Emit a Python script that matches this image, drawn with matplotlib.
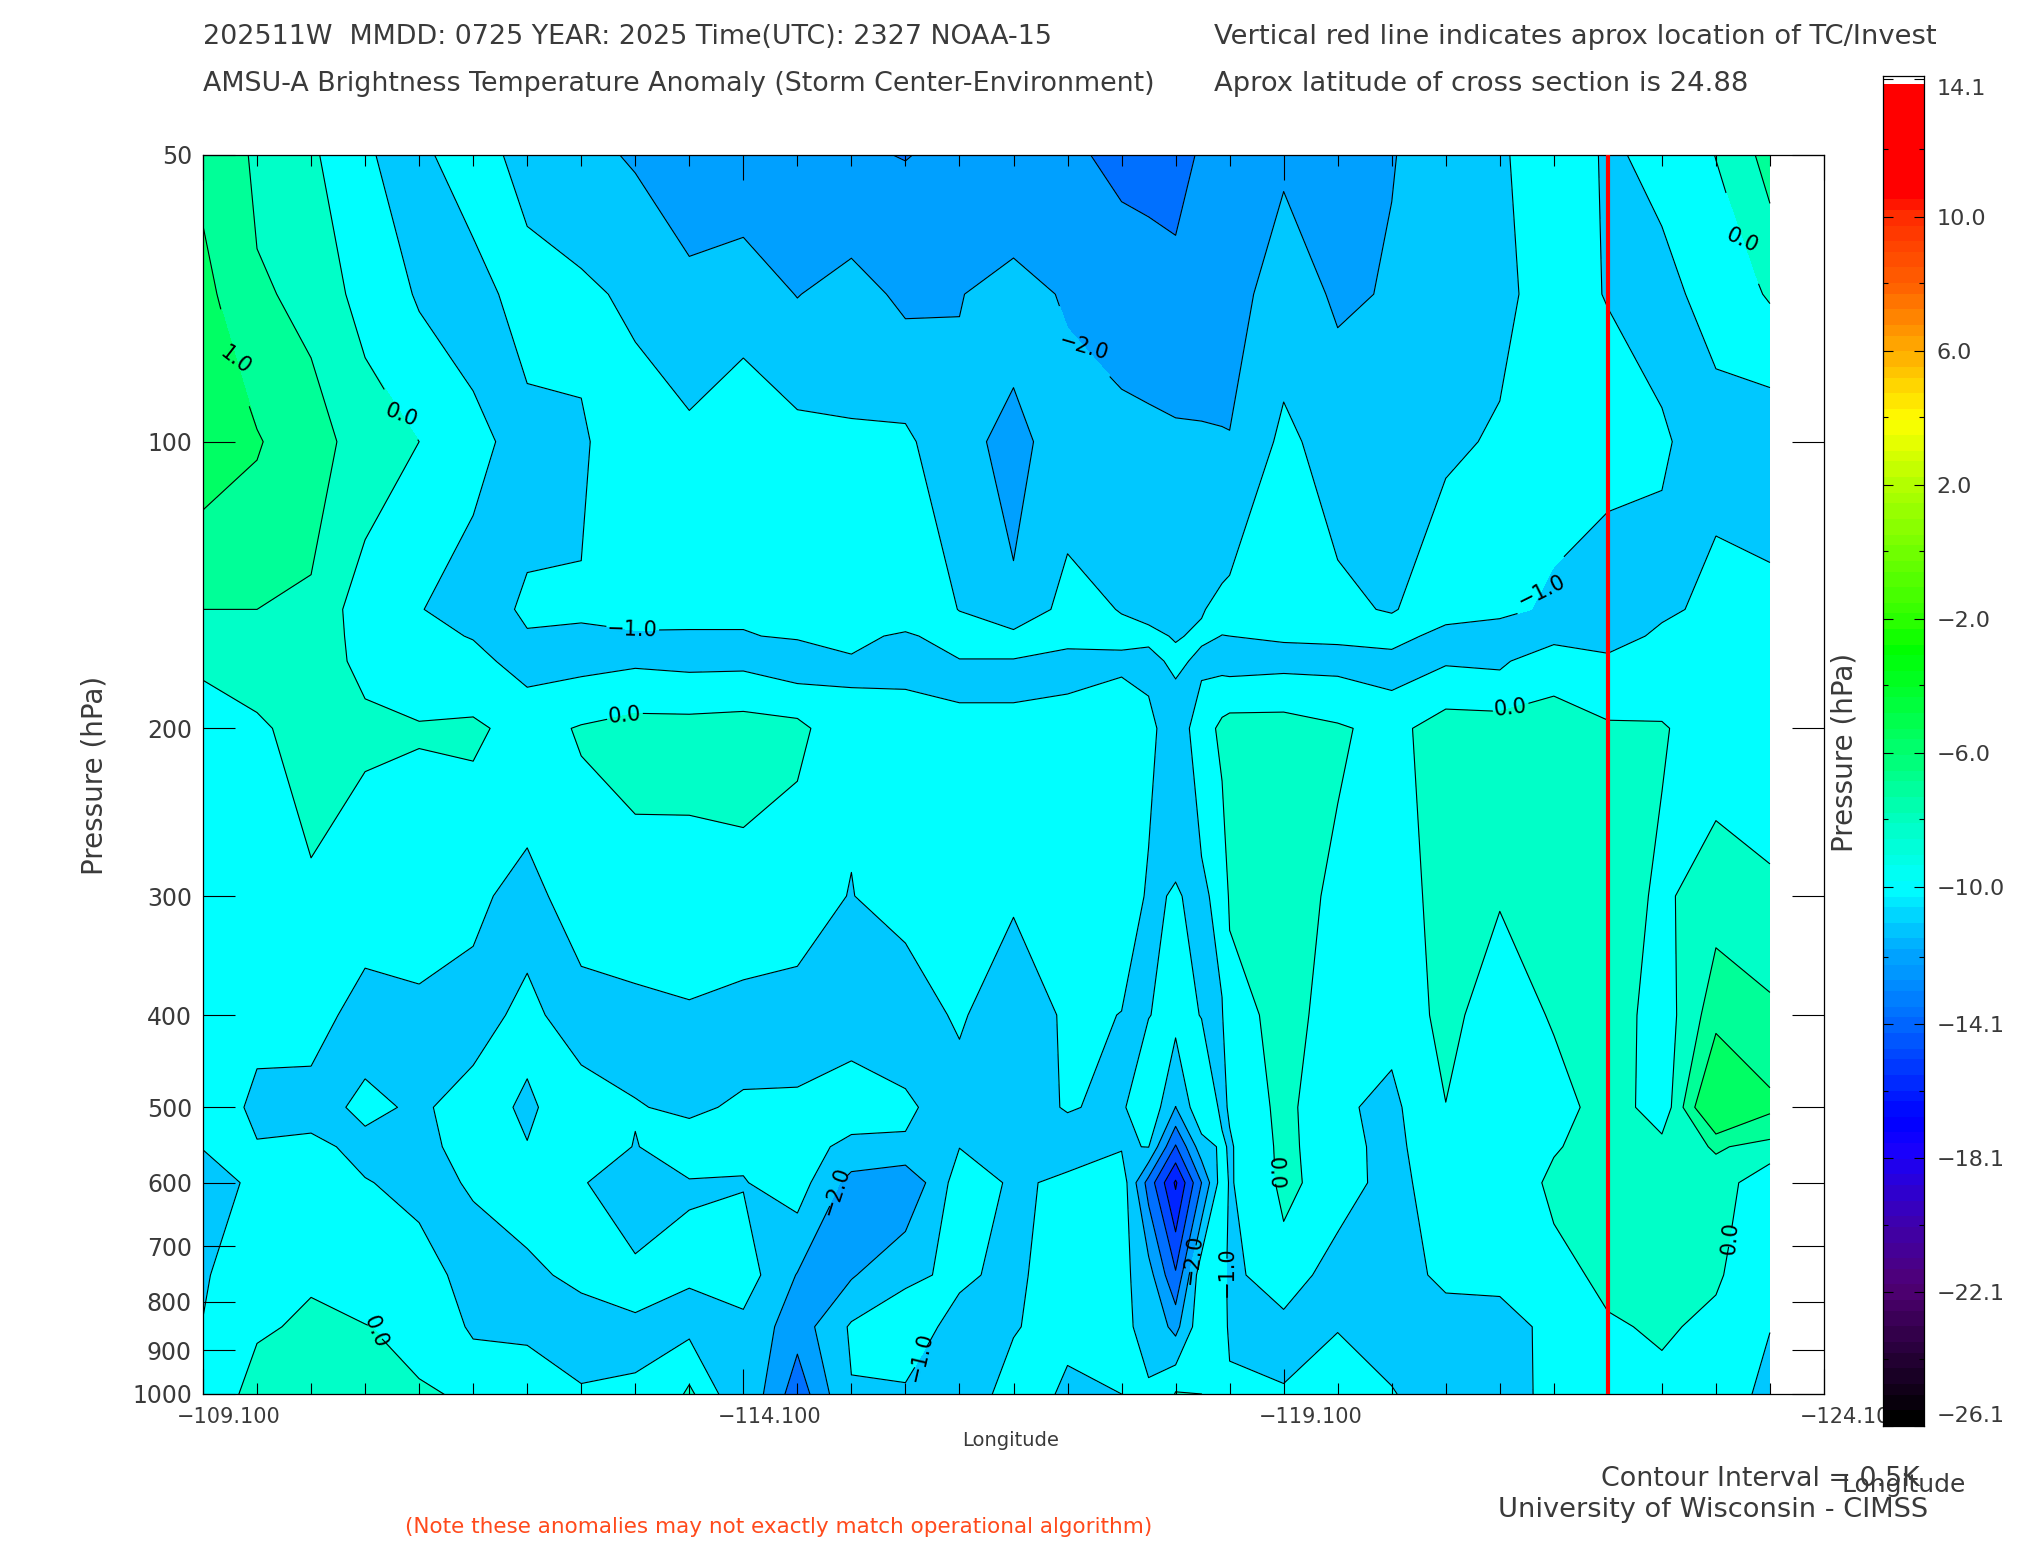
import numpy as np
import matplotlib
matplotlib.use('Agg')
import matplotlib.pyplot as plt
from matplotlib.colors import ListedColormap, BoundaryNorm, LinearSegmentedColormap

# pressure levels of the cross section (last one sits under the axis, it gets clipped)
pressure = [50, 70, 100, 150, 160, 170, 200, 300, 400, 500, 550, 600, 750, 850, 1100]

longitudes = [-109.1, -109.6, -110.1, -110.6, -111.1, -111.6, -112.1, -112.6, -113.1, -113.6,
              -114.1, -114.6, -115.1, -115.6, -116.1, -116.6, -117.1, -117.6, -117.85, -118.1,
              -118.34, -118.53, -118.6, -119.1, -119.6, -120.1, -120.6, -121.1, -121.6, -122.1,
              -122.6, -123.1, -123.6]

# anomaly, one list per longitude, top of the atmosphere first
c00 = [.86, 1.16, 1.28, .5, .35, .15, -.41, -.6, -.75, -.75, -.98, -1.22, -1.08, -.98, -.5]
c01 = [.43, .54, 1.05, .5, .42, .3, -.1, -.5, -.9, -1.08, -.98, -.9, -.5, -.12, .74]
c02 = [.18, .43, .61, .465, .44, .4, .25, -.09, -.7, -1.27, -.85, -.34, -.1, .14, .59]
c03 = [-.95, -.24, .38, -.33, -.27, -.2, .17, -.6, -1.3, -.85, -1.17, -.97, -.33, .02, .59]
c04 = [-1.2, -1.11, 0., -.96, -.75, -.55, .07, -.63, -1.15, -1.1, -1.15, -1.15, -.78, -.15, .18]
c05 = [-.5, -1.4, -.75, -1.39, -1.05, -.72, .16, -.81, -1.3, -.72, -.8, -.955, -1.2, -1.15, .32]
c06 = [-1.4, -.55, -1.35, -.88, -1.05, -1.38, -.35, -1.32, -.8, -1.1, -.98, -.8, -1.09, -1.33, .79]
c07 = [-1.75, -.8, -1.1, -.95, -1.05, -1.3, .08, -.5, -1.4, -.62, -.7, -.98, -.9, -1.2, -.8]
c08 = [-2.1, -1.2, -.5, -.93, -1.02, -1.15, .36, -.42, -1.24, -.97, -1.02, -1.15, -.95, -1.02, -.97]
c09 = [-2.5, -1.78, -.75, -.85, -1.05, -1.25, .36, -.41, -1.1, -1.09, -.76, -1.03, -.92, -1.25, 1.2]
c10 = [-2.6, -1.51, -.2, -.85, -1.05, -1.23, .45, -.38, -1.3, -.92, -.8, -1.05, -.5, -1.27, -1.15]
c11 = [-2.7, -2.03, -.66, -.3, -.9, -1.6, .3, -.8, -1.16, -.95, -.75, -.54, -2.05, -2.53, -4.55]
c12 = [-2.9, -1.63, -.86, -.6, -.85, -1.06, -.9, -1.02, -1.3, -.66, -1.16, -2.39, -2.1, -.87, -1.18]
c13 = [-3.03, -2.2, -.8, -.5, -1.1, -1.3, -.55, -.7, -1.53, -.85, -1.1, -2.9, -1.1, -.7, -1.31]
c14 = [-2.8, -2.03, -1.8, -1.02, -.7, -1.03, -.98, -.8, -.85, -1.47, -1.02, -.5, -.9, -1.2, -1.25]
c15 = [-2.7, -1.71, -2.2, -1.9, -.7, -1.03, -.98, -.85, -1.8, -1.3, -1.2, -1.125, -1.15, -1.05, -.5]
c16 = [-2.85, -2.085, -1.66, -.6, -.85, -1.15, -.83, -.8, -.8, -.95, -1.33, -.85, -.6, -.7, -1.6]
c17 = [-3.2, -2.53, -1.65, -1.05, -.75, -1.2, -.3, -.5, -1.02, -1.15, -1.08, -.4, -.7, -.85, -1.1]
c18 = [-3.25, -2.63, -1.74, -1.2, -.85, -1.2, -.8, -1.1, -1.03, -.2, -.97, -3.4, -1.6, -1.2, -.75]
c19 = [-3.3, -2.74, -1.83, -1.4, -1.05, -.85, -1.45, -.95, -.7, -2.02, -4.1, -6.15, -3.87, -2.31, 1.68]
c20 = [-2.9, -2.57, -1.89, -1.05, -.9, -1.15, -.6, -1.15, -1.03, -.2, -1.4, -3.0, -.3, -.3, .2]
c21 = [-2.6, -2.44, -1.94, -.79, -1.01, -1.32, .28, -.75, -1.05, -1.2, -.85, -.45, -.55, -.4, -.2]
c22 = [-2.5, -2.4, -1.96, -.7, -1., -1.4, .45, .15, -.43, -.9, -1.1, -1.1, -1.3, -1.25, -.4]
c23 = [-2.15, -1.5, -.78, -.6, -.9, -1.3, .45, .4, .35, .3, .25, .2, -.31, -1.37, -.63]
c24 = [-2.2, -2.14, -1.43, -.78, -.85, -1.3, .12, -.18, -.4, -.85, -.6, -.38, -1.6, -1.03, -.4]
c25 = [-2.03, -1.93, -1.3, -1.09, -.45, -1.5, -.3, -.4, -.7, -1.23, -1.35, -1.5, -1.6, -1.6, -.45]
c26 = [-1.7, -1.5, -1.15, -.34, -1.5, -1.1, .48, .3, .3, -.02, -.1, -.2, -.7, -1.6, -1.4]
c27 = [-1.15, -1.22, -.9, -.7, -1.58, -1.2, .44, .07, -.55, -.7, -.7, -.7, -.8, -1.3, -1.25]
c28 = [-.34, -.6, -.5, -1.21, -1.4, -.2, .2, .3, .1, -.4, -.08, .2, -.28, -.8, -.85]
c29 = [-1.14, -1.05, -.42, -1.99, -1.7, -.67, .1, .3, .35, .42, .4, .4, .2, -.09, -.6]
c30 = [-.75, -1.28, -.9, -1.3, -.69, -.4, .05, -.1, -.3, -.4, .2, .3, .3, .1, -.4]
c31 = [.02, -.64, -1.42, -.6, -.5, -.4, -.3, .3, .8, 1.9, .55, .3, .1, -.17, -.5]
c32 = [.68, .1, -1.76, -.64, -.6, -.55, -.45, .13, .6, 1.12, .35, -.41, -.6, -.97, -1.6]

columns = [c00, c01, c02, c03, c04, c05, c06, c07, c08, c09, c10, c11, c12, c13, c14, c15, c16,
           c17, c18, c19, c20, c21, c22, c23, c24, c25, c26, c27, c28, c29, c30, c31, c32]
anomaly = np.array(columns).T

levels = [-7, -6, -5, -4, -3, -2, -1, 0, .5, 1, 2]
band_colors = ['#0000ff', '#0024ff', '#0048ff', '#0070ff', '#00a0ff', '#00c8ff',
               '#00ffff', '#00ffc8', '#00ff98', '#00ff64']

y_ticks = [50, 100, 200, 300, 400, 500, 600, 700, 800, 900, 1000]
x_major = [-109.1, -114.1, -119.1, -124.1]
x_minor = np.arange(-109.1, -124.2, -0.5)
storm_lon = -122.1

# where the contour labels sit (lon, pressure)
label_spots = [(-109.42, 79.3), (-110.94, 91.9), (-113.08, 152), (-113.0, 190), (-117.26, 77.4),
               (-121.44, 138), (-121.2, 190), (-123.35, 60.3), (-110.63, 863), (-118.99, 586),
               (-123.12, 684), (-114.95, 612), (-115.65, 913), (-118.6, 744), (-118.24, 721)]

bar_ticks = [-26.1, -22.1, -18.1, -14.1, -10.0, -6.0, -2.0, 2.0, 6.0, 10.0, 14.1]
bar_stops = [(0, '#000000'), (.099, '#500075'), (.151, '#3c00b4'), (.202, '#1800ff'), (.224, '#0000ff'),
             (.302, '#0070ff'), (.352, '#00a8ff'), (.402, '#00ffff'), (.452, '#00ffc0'), (.502, '#00ff70'),
             (.58, '#00ff00'), (.603, '#30ff00'), (.703, '#b0ff00'), (.753, '#ffff00'), (.803, '#ffb000'),
             (.853, '#ff6400'), (.904, '#ff3000'), (.926, '#ff0000'), (1, '#ff0000')]

W, H = 2025, 1550
text_col = '#3a3a3a'
fig = plt.figure(figsize=(W / 100, H / 100), dpi=100, facecolor='white')


def put(x, y, s, size, **kw):
    kw.setdefault('color', text_col)
    kw.setdefault('va', 'center')
    fig.text(x / W, 1 - y / H, s, fontsize=size, **kw)


def box(x0, y0, x1, y1):
    return [x0 / W, 1 - y1 / H, (x1 - x0) / W, (y1 - y0) / H]


ax = fig.add_axes(box(203, 155, 1824, 1394))
ax.contourf(longitudes, pressure, anomaly, levels=levels,
            cmap=ListedColormap(band_colors), norm=BoundaryNorm(levels, len(band_colors)))
lines = ax.contour(longitudes, pressure, anomaly, levels=levels, colors='k',
                   linewidths=0.8, linestyles='solid')
ax.clabel(lines, fmt=lambda v: f'{v:.1f}'.replace('-', '\u2212'), manual=label_spots,
          fontsize=15, inline=True, inline_spacing=2)
ax.axvline(storm_lon, color='#ff0000', lw=3.0, zorder=5)

ax.set_yscale('log')
ax.set_ylim(1000, 50)
ax.set_xlim(-109.1, -124.1)
ax.set_yticks(y_ticks)
ax.set_yticklabels([str(v) for v in y_ticks], fontsize=17, color=text_col)
ax.set_yticks([], minor=True)
ax.set_xticks(x_major)
ax.set_xticks(x_minor, minor=True)
ax.set_xticklabels([])
ax.tick_params(axis='y', which='major', direction='in', length=23, width=0.8, left=True, right=True, pad=8)
ax.tick_params(axis='x', which='major', direction='in', length=18, width=0.8, top=True, bottom=True)
ax.tick_params(axis='x', which='minor', direction='in', length=8, width=0.8, top=True, bottom=True)
for s in ax.spines.values():
    s.set_linewidth(0.9)

# colour bar
cax = fig.add_axes(box(1883, 76, 1924, 1426), zorder=5)
bar_map = LinearSegmentedColormap.from_list('bar', bar_stops, N=96)
grad = np.linspace(0, 1, 256)[:, None]
cax.imshow(grad, origin='lower', aspect='auto', cmap=bar_map, extent=[0, 1, -26.1, 13.95])
cax.set_xlim(0, 1)
cax.set_ylim(-26.1, 14.2)
cax.set_xticks([])
cax.yaxis.tick_right()
cax.set_yticks(bar_ticks)
cax.set_yticklabels([f'{v:.1f}'.replace('-', '\u2212') for v in bar_ticks], fontsize=16, color=text_col)
cax.set_yticks(np.array(bar_ticks[:-1]) + 2.01, minor=True)
cax.tick_params(axis='y', which='major', direction='in', length=7, width=0.8, left=True, right=True, pad=9)
cax.tick_params(axis='y', which='minor', direction='in', length=3.5, width=0.8, left=True, right=True)
bar_labels = cax.get_yticklabels()
bar_labels[0].set_va('bottom')
bar_labels[-1].set_va('top')
for s in cax.spines.values():
    s.set_linewidth(0.9)

# header text
put(203, 37, '202511W  MMDD: 0725 YEAR: 2025 Time(UTC): 2327 NOAA-15', 19.4)
put(1214, 37, 'Vertical red line indicates aprox location of TC/Invest', 19.7)
put(203, 84, 'AMSU-A Brightness Temperature Anomaly (Storm Center-Environment)', 19.4)
put(1214, 84, 'Aprox latitude of cross section is 24.88', 19.7)

# x tick labels sit a bit right of their ticks in the original
for xp, s in zip([229, 770, 1311, 1852], ['\u2212109.100', '\u2212114.100', '\u2212119.100', '\u2212124.100']):
    put(xp, 1417, s, 15, ha='center')
put(1011, 1441, 'Longitude', 14, ha='center')
put(94, 775, 'Pressure (hPa)', 20, ha='center', rotation=90)
put(1844, 752, 'Pressure (hPa)', 20, ha='center', rotation=90)

put(1920, 1479, 'Contour Interval = 0.5K', 19.4, ha='right')
put(1966, 1485, 'Longitude', 18, ha='right')
put(1928, 1510, 'University of Wisconsin - CIMSS', 19.6, ha='right')
put(405, 1527, '(Note these anomalies may not exactly match operational algorithm)', 15.5, color='#ff4a1c')

fig.savefig('out.png', dpi=100)
